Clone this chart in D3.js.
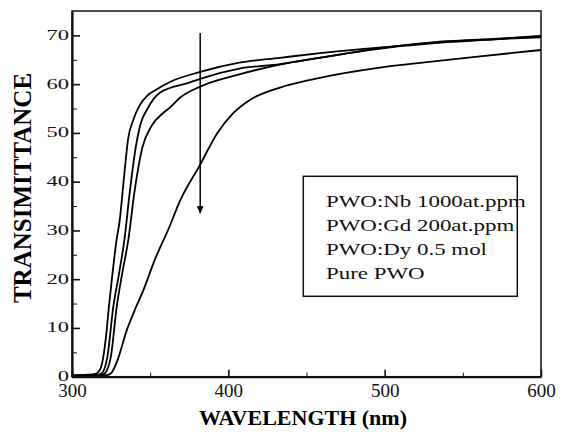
<!DOCTYPE html>
<html>
<head>
<meta charset="utf-8">
<script src="https://cdn.jsdelivr.net/npm/d3@7"></script>
<style>
  body { margin: 0; background: #fff; }
  svg { display: block; font-family: "Liberation Serif", "Times New Roman", serif; }
  .tick line, .domain { stroke: #111; }
</style>
</head>
<body>
<div class="container"></div>
<script>
// series: [wavelength nm, transmittance]
const nb1000 = [[300,0.3],[310,0.4],[315,0.6],[318,1.5],[320,4],[322,9],[323.5,14],[325.5,20],[328.5,28],[330.5,32],[333,40],[336,49],[339,52.5],[343,55.5],[348,57.6],[354,58.9],[363,60.5],[382,62.5],[407,64.4],[433,65.4],[460,66.4],[500,67.6],[540,68.8],[570,69.3],[600,69.8]];
const gd200 = [[300,0.2],[315,0.3],[319,0.7],[322.6,4],[326.4,14.3],[330,21],[333.5,28],[337,38],[341,47.5],[344,52],[348,54.8],[356,58.2],[375,60.3],[382,61.1],[407,63.2],[433,64.1],[460,65.5],[500,67.5],[540,68.7],[570,69.2],[600,69.6]];
const dy05 = [[300,0.2],[318,0.3],[321,0.7],[324.8,4],[328.6,14.3],[332,21],[336,28],[340,38],[345,47],[351,51.5],[358,54],[363,55.3],[369,57.2],[382,59.5],[407,62],[433,64],[460,65.5],[500,67.4],[540,68.6],[570,69.2],[600,69.9]];
const purePWO = [[300,0.2],[322,0.3],[325,0.7],[329,3.3],[335,9.5],[341,14.3],[345.6,17.7],[353,24],[362,30.5],[369,36],[382,43.5],[393,50],[403,54],[414,56.8],[433,59.3],[454,61],[497,63.4],[530,64.6],[561,65.7],[600,67]];

const seriesNames = ["PWO:Nb 1000at.ppm", "PWO:Gd 200at.ppm", "PWO:Dy 0.5 mol", "Pure PWO"];
const xMajor = [300, 400, 500, 600];
const xMinor = [350, 450, 550];
const yMajor = [0, 10, 20, 30, 40, 50, 60, 70];
const yMinor = [5, 15, 25, 35, 45, 55, 65];
// arrow: wavelength, from T, to T
const arrowX = 382, arrowFrom = 70.5, arrowTo = 33.5;

const W = 561, H = 432;
const pLeft = 72, pRight = 541, pTop = 11, pBottom = 376.7;

const svg = d3.select(".container").append("svg")
  .attr("width", W).attr("height", H);

const x = d3.scaleLinear().domain([300, 600]).range([pLeft, pRight]);
const y = d3.scaleLinear().domain([0, 75]).range([pBottom, pTop]);

//Frame
svg.append("rect")
  .attr("x", pLeft).attr("y", pTop)
  .attr("width", pRight - pLeft).attr("height", pBottom - pTop)
  .attr("fill", "none").attr("stroke", "#111").attr("stroke-width", 1.5);

//Curves
const line = d3.line()
  .x(d => x(d[0]))
  .y(d => y(d[1]))
  .curve(d3.curveMonotoneX);

[nb1000, gd200, dy05, purePWO].forEach(s => {
  svg.append("path")
    .datum(s)
    .attr("d", line)
    .attr("fill", "none")
    .attr("stroke", "#000")
    .attr("stroke-width", 1.8);
});

//X axis
const xAxisG = svg.append("g")
  .attr("transform", `translate(0,${pBottom})`)
  .call(d3.axisBottom(x).tickValues(xMajor).tickSize(-7).tickSizeOuter(0).tickPadding(7));
svg.append("g")
  .attr("transform", `translate(0,${pBottom})`)
  .call(d3.axisBottom(x).tickValues(xMinor).tickSize(-4).tickSizeOuter(0).tickFormat(""))
  .select(".domain").remove();
xAxisG.select(".domain").attr("stroke-width", 2.2);
xAxisG.selectAll(".tick line").attr("stroke-width", 1.6);
xAxisG.selectAll("text")
  .attr("font-size", 19).attr("fill", "#111")
  .attr("font-family", "Liberation Serif");

//Y axis
const yAxisG = svg.append("g")
  .attr("transform", `translate(${pLeft},0)`)
  .call(d3.axisLeft(y).tickValues(yMajor).tickSize(-8).tickSizeOuter(0));
svg.append("g")
  .attr("transform", `translate(${pLeft},0)`)
  .call(d3.axisLeft(y).tickValues(yMinor).tickSize(-5).tickSizeOuter(0).tickFormat(""))
  .select(".domain").remove();
yAxisG.select(".domain").attr("stroke-width", 2.2);
yAxisG.selectAll(".tick line").attr("stroke-width", 1.6);
yAxisG.selectAll("text")
  .attr("x", 0)
  .attr("dy", "0.26em")
  .attr("transform", "translate(-3,0) scale(1.5,1)")
  .attr("font-size", 15).attr("fill", "#111")
  .attr("font-family", "Liberation Serif");

//Axis titles
svg.append("text")
  .attr("x", 303)
  .attr("y", 425)
  .attr("text-anchor", "middle")
  .attr("font-weight", "bold")
  .attr("font-size", 22)
  .text("WAVELENGTH (nm)");

svg.append("text")
  .attr("transform", "rotate(-90)")
  .attr("x", -188)
  .attr("y", 31)
  .attr("text-anchor", "middle")
  .attr("font-weight", "bold")
  .attr("font-size", 25)
  .text("TRANSIMITTANCE");

//Arrow
svg.append("defs").append("marker")
  .attr("id", "head")
  .attr("viewBox", "0 0 10 10")
  .attr("refX", 10).attr("refY", 5)
  .attr("markerWidth", 7).attr("markerHeight", 8)
  .attr("markerUnits", "userSpaceOnUse")
  .attr("orient", "auto")
  .append("path")
  .attr("d", "M0,0 L10,5 L0,10 Z")
  .attr("fill", "#000");

svg.append("line")
  .attr("x1", x(arrowX)).attr("x2", x(arrowX))
  .attr("y1", y(arrowFrom)).attr("y2", y(arrowTo))
  .attr("stroke", "#000").attr("stroke-width", 1.5)
  .attr("marker-end", "url(#head)");

//Legend
const legend = svg.append("g");
legend.append("rect")
  .attr("x", 303.3).attr("y", 176.3)
  .attr("width", 214).attr("height", 120)
  .attr("fill", "#fff").attr("stroke", "#111").attr("stroke-width", 1.5);

legend.selectAll("text.leg")
  .data(seriesNames)
  .enter()
  .append("text")
  .attr("class", "leg")
  .attr("transform", (d, i) => `translate(326,${207.3 + i * 24}) scale(1.31,1)`)
  .attr("font-size", 17.5)
  .attr("fill", "#111")
  .text(d => d);
</script>
</body>
</html>
